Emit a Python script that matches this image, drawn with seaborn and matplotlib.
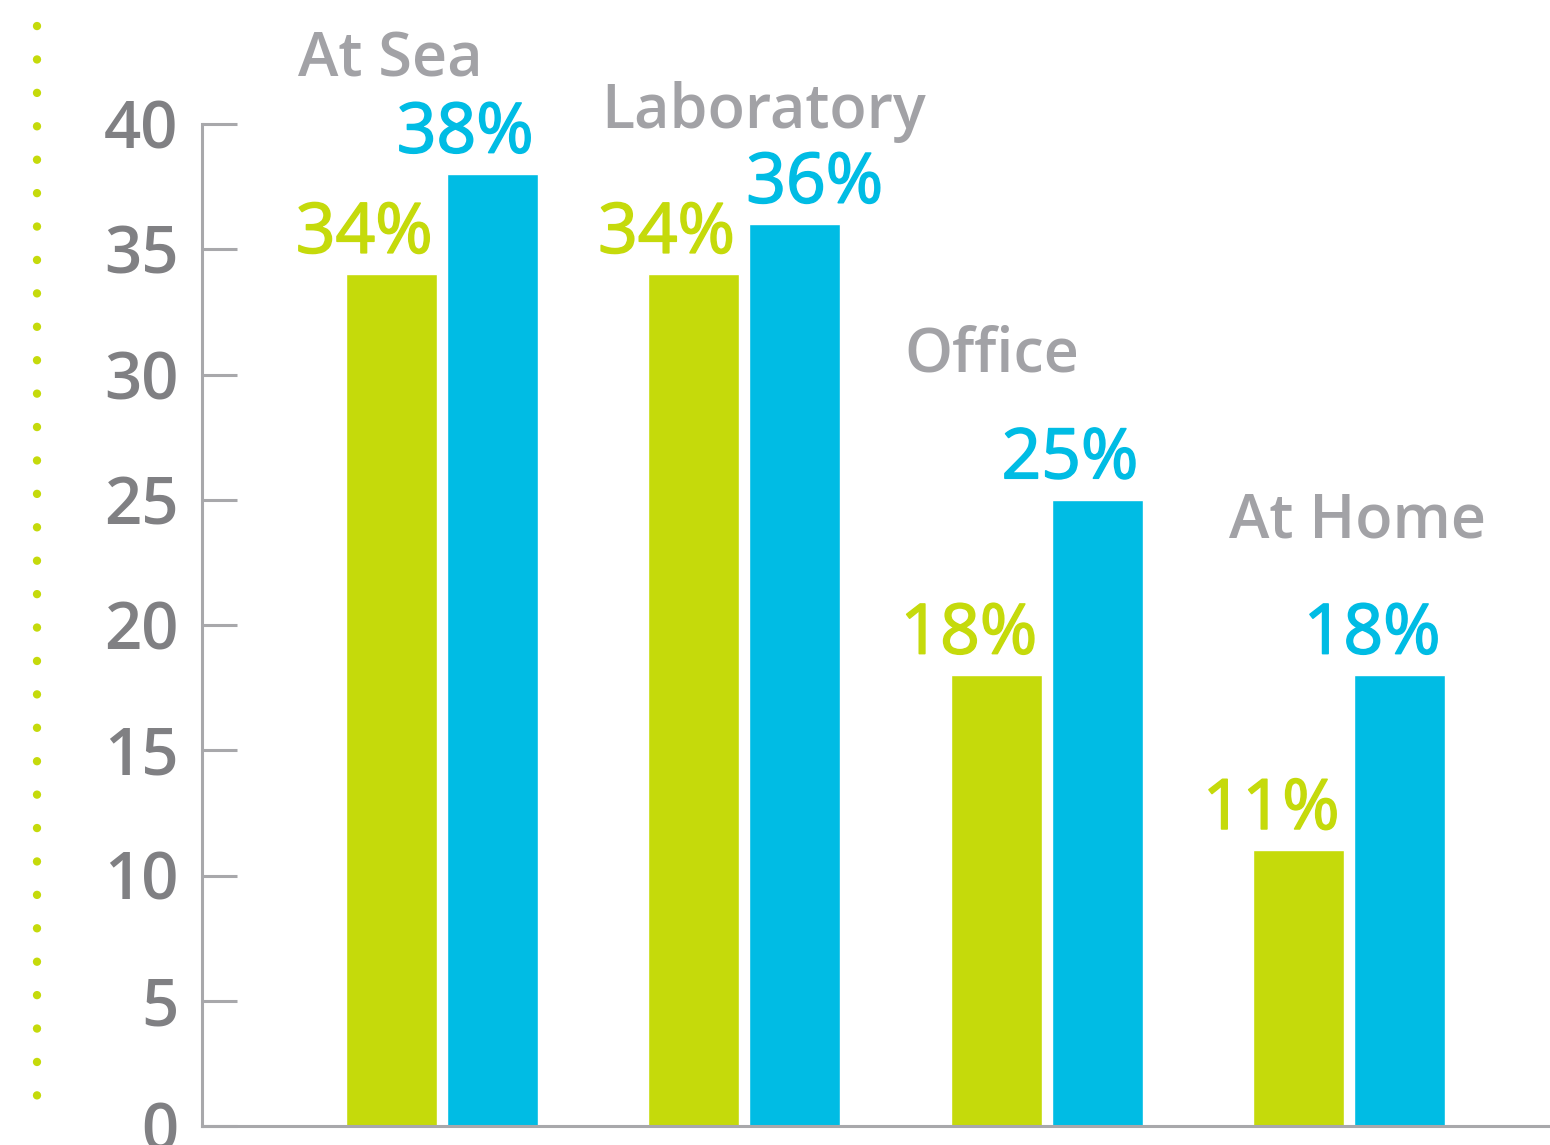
import matplotlib
matplotlib.use("Agg")
import matplotlib.pyplot as plt
import matplotlib.patheffects as pe
from matplotlib.lines import Line2D
import seaborn as sns
import pandas as pd

# Workplace categories and the two survey series (percent)
categories = ["At Sea", "Laboratory", "Office", "At Home"]
series_names = ["Series 1", "Series 2"]
series_1 = [34, 34, 18, 11]
series_2 = [38, 36, 25, 18]
y_ticks = [0, 5, 10, 15, 20, 25, 30, 35, 40]

GREEN = "#c5da0b"
BLUE = "#00bce4"
TICK_GREY = "#808083"
LABEL_GREY = "#a2a2a6"
AXIS_GREY = "#a8a8ab"

df = pd.DataFrame({
    "category": categories * 2,
    "series": [series_names[0]] * len(categories) + [series_names[1]] * len(categories),
    "value": series_1 + series_2,
})

sns.set_style("white")
plt.rcParams["font.family"] = ["Open Sans", "DejaVu Sans"]

W, H = 1550, 1145
fig = plt.figure(figsize=(W / 100, H / 100), dpi=100)
ax = fig.add_axes([202 / W, (H - 1126) / H, (W - 202) / W, (1126 - 124) / H])

sns.barplot(data=df, x="category", y="value", hue="series",
            palette=[GREEN, BLUE], width=0.668, gap=0.1, saturation=1,
            legend=False, ax=ax)

ax.set_xlim(-0.794, 3.665)
ax.set_ylim(0, 40)
ax.set_yticks(y_ticks)
ax.set_yticklabels([str(t) for t in y_ticks])
ax.set_xlabel("")
ax.set_ylabel("")
ax.tick_params(axis="x", length=0, labelbottom=False)
ax.tick_params(axis="y", left=True, direction="in", length=25, width=2.2,
               color=AXIS_GREY, pad=17, labelsize=47, labelcolor=TICK_GREY)
for lab in ax.get_yticklabels():
    lab.set_fontweight("semibold")

for side in ("top", "right"):
    ax.spines[side].set_visible(False)
for side in ("left", "bottom"):
    ax.spines[side].set_color(AXIS_GREY)
    ax.spines[side].set_linewidth(2.2)

# Percentage labels sitting above each bar, right-aligned with the bar edge
nudges = {(1, 1): 34}
for s, container in enumerate(ax.containers):
    color = [GREEN, BLUE][s]
    for i, bar in enumerate(container):
        right = bar.get_x() + bar.get_width()
        ax.annotate(f"{bar.get_height():.0f}%", xy=(right, bar.get_height()),
                    xytext=(-3 + nudges.get((s, i), 0), 15.5),
                    textcoords="offset points", ha="right", va="baseline",
                    fontsize=50, color=color, annotation_clip=False,
                    path_effects=[pe.withStroke(linewidth=1.2, foreground=color)])

# Category names placed above each group
name_x = [-0.476, 0.528, 1.531, 2.603]
name_y = [41.9, 39.83, 30.11, 23.49]
for name, x, y in zip(categories, name_x, name_y):
    ax.text(x, y, name, ha="left", va="baseline", fontsize=44,
            fontweight="semibold", color=LABEL_GREY, clip_on=False)

# Dotted guide along the left margin
fig.add_artist(Line2D([37 / W, 37 / W], [(H - 26) / H, (H - 1126) / H],
                      transform=fig.transFigure, color=GREEN, linewidth=6,
                      linestyle=(0, (0.01, 24 / 6)), dash_capstyle="round"))

fig.savefig("out.png", dpi=100)
